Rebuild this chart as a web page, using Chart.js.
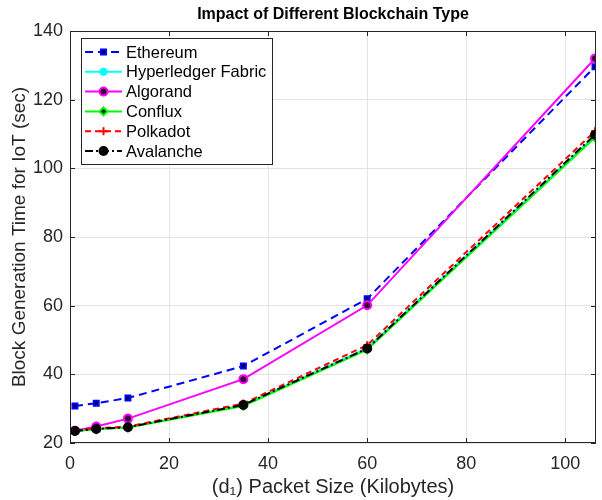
<!DOCTYPE html>
<html>
<head>
<meta charset="utf-8">
<script src="https://cdn.jsdelivr.net/npm/chart.js@4/dist/chart.umd.min.js"></script>
<style>
  html, body { margin: 0; padding: 0; background: #fff; }
  #wrap { width: 602px; height: 500px; }
</style>
</head>
<body>
<div id="wrap"><canvas id="grafico"></canvas></div>
<script>
"use strict";

// dados
const packetSize = [1, 5.3, 11.7, 35, 60, 106];
const ethereum = [30.8, 31.6, 33.1, 42.4, 62, 129.6];
const hyperledger = [23.5, 24.1, 24.6, 31.0, 47.6, 109.4];
const algorand = [23.6, 24.8, 27.1, 38.6, 60.1, 132];
const conflux = [23.5, 24.0, 24.5, 30.8, 47.2, 109.0];
const polkadot = [23.7, 24.3, 24.8, 31.5, 48.5, 110.8];
const avalanche = [23.5, 24.1, 24.6, 31.1, 47.5, 109.8];

const xTicks = [0, 20, 40, 60, 80, 100];
const yTicks = [20, 40, 60, 80, 100, 120, 140];

const fonte = "'Liberation Sans', Arial, Helvetica, sans-serif";

const series = [
    { label: "Ethereum", data: ethereum, color: "#0000ff", dash: [8, 5], point: "rect", fill: "#000033", radius: 3.5 },
    { label: "Hyperledger Fabric", data: hyperledger, color: "#00ffff", dash: [], point: "circle", fill: "#00ffff", radius: 3 },
    { label: "Algorand", data: algorand, color: "#ff00ff", dash: [], point: "circle", fill: "#330033", radius: 4 },
    { label: "Conflux", data: conflux, color: "#00ff00", dash: [], point: "rectRot", fill: "#003300", radius: 4 },
    { label: "Polkadot", data: polkadot, color: "#ff0000", dash: [6, 4], point: "cross", fill: "#ff0000", radius: 4 },
    { label: "Avalanche", data: avalanche, color: "#000000", dash: [8, 3, 2, 3], point: "circle", fill: "#000000", radius: 4 },
];

const datasets = series.map((s, i) => ({
    label: s.label,
    data: s.data.map((y, k) => ({ x: packetSize[k], y: y })),
    borderColor: s.color,
    borderWidth: 2,
    borderDash: s.dash,
    pointStyle: s.point,
    pointRadius: s.radius,
    pointBackgroundColor: s.fill,
    pointBorderColor: s.color,
    pointBorderWidth: 2,
    tension: 0,
    order: series.length - 1 - i,
}));

// titulo, moldura e legenda desenhados por cima
const extras = {
    id: "extras",
    afterDraw(chart) {
        const ctx = chart.ctx;
        const area = chart.chartArea;
        ctx.save();

        // moldura
        ctx.strokeStyle = "#262626";
        ctx.lineWidth = 1;
        ctx.setLineDash([]);
        ctx.strokeRect(area.left + 0.5, area.top + 0.5, area.right - area.left - 1, area.bottom - area.top - 1);

        // ticks para dentro
        const xs = chart.scales.x;
        const ys = chart.scales.y;
        ctx.beginPath();
        xTicks.forEach((v) => {
            const px = Math.round(xs.getPixelForValue(v)) + 0.5;
            ctx.moveTo(px, area.bottom);
            ctx.lineTo(px, area.bottom - 5);
            ctx.moveTo(px, area.top);
            ctx.lineTo(px, area.top + 5);
        });
        yTicks.forEach((v) => {
            const py = Math.round(ys.getPixelForValue(v)) + 0.5;
            ctx.moveTo(area.left, py);
            ctx.lineTo(area.left + 5, py);
            ctx.moveTo(area.right, py);
            ctx.lineTo(area.right - 5, py);
        });
        ctx.stroke();

        // titulo
        ctx.fillStyle = "#000";
        ctx.font = "bold 16px " + fonte;
        ctx.textAlign = "center";
        ctx.textBaseline = "middle";
        ctx.fillText("Impact of Different Blockchain Type", (area.left + area.right) / 2, 15);

        // legenda
        const lx = 81, ly = 38, lw = 191, lh = 126;
        ctx.fillStyle = "#fff";
        ctx.fillRect(lx, ly, lw, lh);
        ctx.strokeStyle = "#262626";
        ctx.strokeRect(lx + 0.5, ly + 0.5, lw, lh);
        ctx.font = "16.5px " + fonte;
        ctx.textAlign = "left";
        series.forEach((s, i) => {
            const y = 52 + i * 19.8;
            ctx.strokeStyle = s.color;
            ctx.lineWidth = 2;
            ctx.setLineDash(s.dash);
            ctx.beginPath();
            ctx.moveTo(85, y);
            ctx.lineTo(122, y);
            ctx.stroke();
            ctx.setLineDash([]);
            ctx.fillStyle = s.fill;
            Chart.helpers.drawPoint(ctx, { pointStyle: s.point, radius: s.radius, rotation: 0, borderWidth: 2 }, 103.5, y);
            ctx.fillStyle = "#000";
            ctx.fillText(s.label, 126, y + 1);
        });
        ctx.restore();
    },
};

new Chart(document.getElementById("grafico"), {
    type: "line",
    data: { datasets: datasets },
    options: {
        responsive: true,
        maintainAspectRatio: false,
        animation: false,
        layout: { padding: { top: 31, right: 1, left: 0, bottom: 0 } },
        plugins: {
            legend: { display: false },
            title: { display: false },
            tooltip: { enabled: false },
        },
        scales: {
            x: {
                type: "linear",
                min: 0,
                max: 106.2,
                afterBuildTicks: (scale) => {
                    scale.ticks = xTicks.map((v) => ({ value: v }));
                },
                afterFit: (scale) => {
                    scale.height = 57;
                },
                grid: { color: "#e3e3e3", drawTicks: false },
                border: { display: false },
                ticks: { color: "#262626", font: { size: 18, family: fonte }, padding: 10, maxRotation: 0 },
                title: {
                    display: true,
                    text: "(d\u2081) Packet Size (Kilobytes)",
                    color: "#262626",
                    font: { size: 20, family: fonte },
                    padding: { top: 0, bottom: 1 },
                },
            },
            y: {
                min: 20,
                max: 140,
                afterBuildTicks: (scale) => {
                    scale.ticks = yTicks.map((v) => ({ value: v }));
                },
                afterFit: (scale) => {
                    scale.width = 70;
                },
                grid: { color: "#e3e3e3", drawTicks: false },
                border: { display: false },
                ticks: { color: "#262626", font: { size: 18, family: fonte }, padding: 7 },
                title: {
                    display: true,
                    text: "Block Generation Time for IoT (sec)",
                    color: "#262626",
                    font: { size: 19, family: fonte },
                    padding: { top: 8, bottom: 2 },
                },
            },
        },
    },
    plugins: [extras],
});
</script>
</body>
</html>
